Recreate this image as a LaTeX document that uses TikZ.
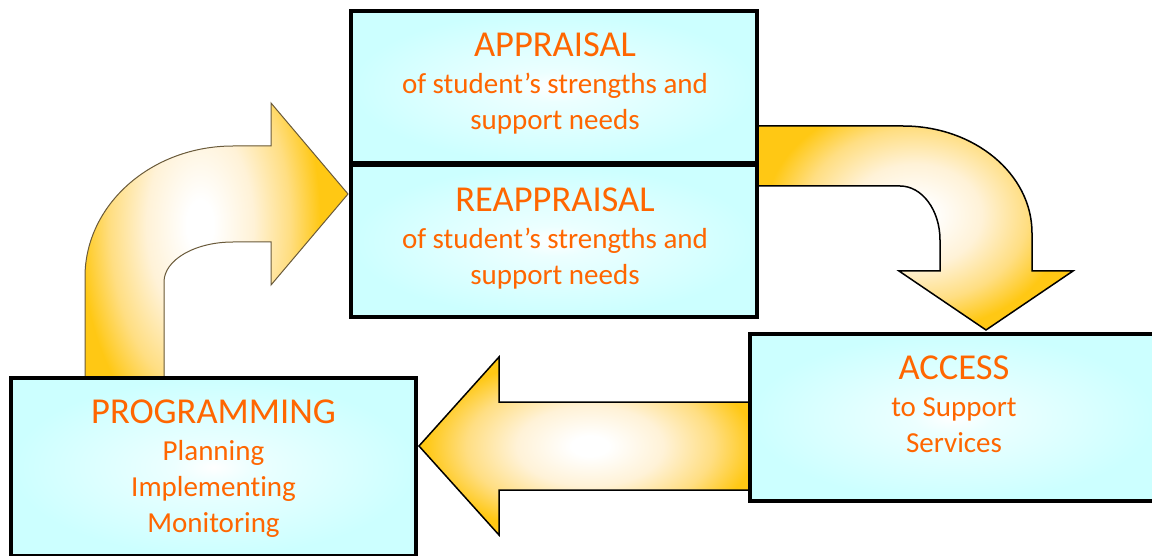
\documentclass[tikz,border=0pt]{standalone}
\usepackage{fontspec}
\setmainfont{Carlito}[Ligatures=NoCommon]

\definecolor{labelorange}{RGB}{255,102,0}
\definecolor{arrowgold}{RGB}{255,200,20}
\definecolor{arrowmid}{RGB}{255,222,130}
\definecolor{arrowpale}{RGB}{255,242,215}
\definecolor{arrowedge}{RGB}{105,90,60}
\definecolor{boxcyan}{RGB}{204,255,255}
\definecolor{boxpale}{RGB}{236,255,255}

% soft glow for the block arrows: white core fading to gold
\pgfdeclareradialshading{arrowglow}{\pgfpoint{0bp}{0bp}}{%
  color(0bp)=(white); color(2bp)=(white); color(8bp)=(arrowpale);
  color(13.5bp)=(arrowmid); color(18bp)=(arrowgold); color(50bp)=(arrowgold)}
% light cyan fill of the stage boxes
\pgfdeclareradialshading{boxglow}{\pgfpoint{0bp}{0bp}}{%
  color(0bp)=(white); color(5bp)=(boxpale); color(25bp)=(boxcyan);
  color(50bp)=(boxcyan)}

\newcommand\boxtitle{\fontsize{36.5}{44}\selectfont}

\begin{document}
\begin{tikzpicture}[x=1pt,y=-1pt,
  box/.style={rectangle, draw=black, line width=4pt, shading=boxglow,
    inner sep=0pt, outer sep=0pt},
  flow/.style={draw=black, line width=1.5pt, fill=arrowgold, line join=miter},
  caption/.style={text=labelorange, align=center, anchor=north,
    inner sep=0pt, font=\fontsize{29}{36}\selectfont},
]
\useasboundingbox (0,0) rectangle (1152,556);
\clip (0,0) rectangle (1152,556);

% block arrows (drawn first so the boxes sit on top of their ends)
\path[flow, draw=arrowedge, line width=1pt,
  path picture={\shade[shading=arrowglow] (200,225) ellipse [x radius=167, y radius=306];}]
  (85,380) -- (85,277) .. controls (85,204.7) and (151.3,146) .. (233,146)
  -- (271,146) -- (271,103) -- (348,194) -- (271,285) -- (271,242) -- (233,242)
  .. controls (194.9,242) and (164,259.9) .. (164,282) -- (164,380) -- cycle;

\path[flow,
  path picture={\shade[shading=arrowglow] (915,215) ellipse [x radius=208, y radius=160];}]
  (756,126) -- (903,126) .. controls (974.2,126) and (1032,173.9) .. (1032,233)
  -- (1032,271) -- (1073,271) -- (986,330) -- (899,271) -- (940,271) -- (940,240)
  .. controls (940,210.2) and (922.1,186) .. (900,186) -- (756,186) -- cycle;

\path[flow,
  path picture={\shade[shading=arrowglow] (590,446) ellipse [x radius=229, y radius=125];}]
  (750,402) -- (499,402) -- (499,357) -- (419,446) -- (499,535) -- (499,490)
  -- (750,490) -- cycle;

% stage boxes
\node[box, minimum width=406pt, minimum height=152pt] (appraisal) at (554,87) {};
\node[box, minimum width=406pt, minimum height=152pt] (reappraisal) at (554,241) {};
\node[box, minimum width=406pt, minimum height=167pt] (access) at (953,417.5) {};
\node[box, minimum width=405pt, minimum height=178pt] (programming) at (213.5,467) {};

% box captions
\node[caption] (appraisal-text) at (555,32.5)
  {\boxtitle APPRAISAL\\[1pt] of student’s strengths and\\ support needs};
\node[caption] (reappraisal-text) at (555,188)
  {\boxtitle REAPPRAISAL\\[1pt] of student’s strengths and\\ support needs};
\node[caption] (access-text) at (954,356)
  {\boxtitle ACCESS\\[1pt] to Support\\ Services};
\node[caption] (programming-text) at (213.5,400)
  {\boxtitle PROGRAMMING\\[1pt] Planning\\ Implementing\\ Monitoring};
\end{tikzpicture}
\end{document}
